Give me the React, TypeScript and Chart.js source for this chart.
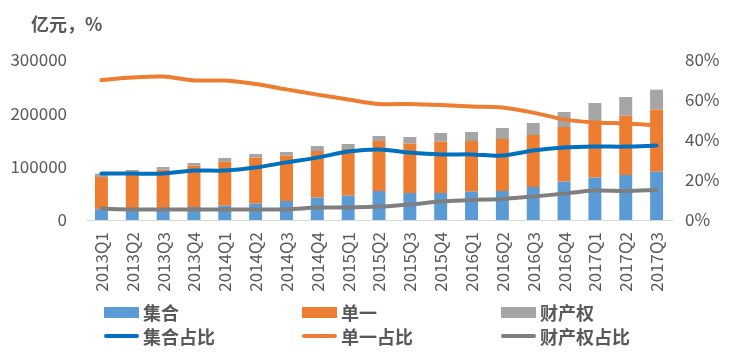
import React, { useEffect, useRef } from "react";
import { Chart, registerables } from "chart.js";

Chart.register(...registerables);

const categories = [
  "2013Q1", "2013Q2", "2013Q3", "2013Q4",
  "2014Q1", "2014Q2", "2014Q3", "2014Q4",
  "2015Q1", "2015Q2", "2015Q3", "2015Q4",
  "2016Q1", "2016Q2", "2016Q3", "2016Q4",
  "2017Q1", "2017Q2", "2017Q3",
];

// 亿元
const jiheValues = [20000, 22000, 22500, 24400, 26900, 30600, 35600, 41900, 45600, 54400, 50600, 50600, 53100, 54400, 61900, 71900, 79400, 84400, 90600];
const danyiValues = [60600, 66700, 71900, 77400, 82500, 86300, 85000, 87500, 87500, 93700, 92500, 96300, 95000, 97500, 97500, 102500, 106200, 111200, 116300];
const caichanValues = [6200, 5000, 5000, 5100, 6900, 6800, 6900, 9400, 9400, 9400, 12500, 16200, 16900, 20600, 22500, 28100, 33800, 35000, 37500];

// %
const jiheShare = [23.3, 23.2, 23.2, 24.7, 24.7, 26.2, 28.8, 31.2, 34.2, 35.3, 33.7, 32.8, 32.8, 32.2, 34.7, 36.2, 36.7, 36.7, 37.2];
const danyiShare = [70.0, 71.2, 71.7, 69.8, 69.7, 68.0, 65.3, 62.7, 60.3, 58.0, 58.0, 57.5, 56.7, 56.2, 53.7, 50.3, 48.7, 48.3, 47.3];
const caichanShare = [5.7, 5.3, 5.3, 5.3, 5.3, 5.3, 5.3, 6.2, 6.3, 6.7, 7.8, 9.2, 10.0, 10.5, 11.7, 13.2, 14.7, 14.5, 15.0];

const leftTicks = [0, 100000, 200000, 300000];
const rightTicks = [0, 20, 40, 60, 80];

const FONT = '"Noto Sans CJK SC", "Noto Sans", sans-serif';
const TEXT = "#595959";

const legendItems = [
  { label: "集合", color: "#5B9BD5", kind: "bar", col: 0, row: 0 },
  { label: "单一", color: "#ED7D31", kind: "bar", col: 1, row: 0 },
  { label: "财产权", color: "#A5A5A5", kind: "bar", col: 2, row: 0 },
  { label: "集合占比", color: "#0070C0", kind: "line", col: 0, row: 1 },
  { label: "单一占比", color: "#ED7D31", kind: "line", col: 1, row: 1 },
  { label: "财产权占比", color: "#7F7F7F", kind: "line", col: 2, row: 1 },
];
const colX = [104, 302, 501];
const rowY = [312, 336];

export default function App() {
  const ref = useRef<HTMLCanvasElement | null>(null);

  useEffect(() => {
    if (!ref.current) return;
    const chart = new Chart(ref.current, {
      data: {
        labels: categories,
        datasets: [
          { type: "bar", label: "集合", data: jiheValues, backgroundColor: "#5B9BD5", yAxisID: "y", stack: "s", order: 2, barPercentage: 0.42, categoryPercentage: 1 },
          { type: "bar", label: "单一", data: danyiValues, backgroundColor: "#ED7D31", yAxisID: "y", stack: "s", order: 2, barPercentage: 0.42, categoryPercentage: 1 },
          { type: "bar", label: "财产权", data: caichanValues, backgroundColor: "#A5A5A5", yAxisID: "y", stack: "s", order: 2, barPercentage: 0.42, categoryPercentage: 1 },
          { type: "line", label: "集合占比", data: jiheShare, borderColor: "#0070C0", backgroundColor: "#0070C0", borderWidth: 4, pointRadius: 0, tension: 0.3, yAxisID: "y1", order: 1, borderCapStyle: "round" },
          { type: "line", label: "单一占比", data: danyiShare, borderColor: "#ED7D31", backgroundColor: "#ED7D31", borderWidth: 4, pointRadius: 0, tension: 0.3, yAxisID: "y1", order: 1, borderCapStyle: "round" },
          { type: "line", label: "财产权占比", data: caichanShare, borderColor: "#7F7F7F", backgroundColor: "#7F7F7F", borderWidth: 4, pointRadius: 0, tension: 0.3, yAxisID: "y1", order: 1, borderCapStyle: "round" },
        ],
      } as any,
      options: {
        animation: false,
        responsive: false,
        maintainAspectRatio: false,
        layout: { padding: { top: 60, bottom: 52, left: 0, right: 0 } },
        plugins: { legend: { display: false }, tooltip: { enabled: false }, title: { display: false } },
        scales: {
          x: {
            stacked: true,
            grid: { display: false, drawTicks: false },
            border: { display: true, color: "#D9D9D9", width: 1 },
            ticks: {
              autoSkip: false,
              minRotation: 90,
              maxRotation: 90,
              padding: 12,
              color: TEXT,
              font: { family: FONT, size: 17 },
            },
            afterFit: (s: any) => { s.height = 80; },
          },
          y: {
            stacked: true,
            position: "left",
            min: leftTicks[0],
            max: leftTicks[leftTicks.length - 1],
            grid: { display: false, drawTicks: false },
            border: { display: false },
            afterBuildTicks: (s: any) => { s.ticks = leftTicks.map((v) => ({ value: v })); },
            ticks: { padding: 19, color: TEXT, font: { family: FONT, size: 17 }, callback: (v: any) => String(v) },
            afterFit: (s: any) => { s.width = 86; },
          },
          y1: {
            stacked: false,
            position: "right",
            min: rightTicks[0],
            max: rightTicks[rightTicks.length - 1],
            grid: { display: false, drawTicks: false },
            border: { display: false },
            afterBuildTicks: (s: any) => { s.ticks = rightTicks.map((v) => ({ value: v })); },
            ticks: {
              padding: 13,
              color: TEXT,
              font: { family: FONT, size: 17 },
              callback: (v: any) => v + "%",
            },
            afterFit: (s: any) => { s.width = 61; },
          },
        },
      },
    });
    return () => chart.destroy();
  }, []);

  return (
    <div style={{ position: "fixed", left: 0, top: 0, width: 733, height: 352, background: "#fff", fontFamily: FONT }}>
      <canvas ref={ref} width={733} height={352} style={{ display: "block" }} />
      <div style={{ position: "absolute", left: 31, top: 23, transform: "translateY(-50%)", fontSize: 18, fontWeight: "bold", color: TEXT, whiteSpace: "nowrap", lineHeight: 1 }}>
        亿元，%
      </div>
      {legendItems.map((it) => (
        <div key={it.label} style={{ position: "absolute", left: colX[it.col], top: rowY[it.row], transform: "translateY(-50%)", display: "flex", alignItems: "center", whiteSpace: "nowrap" }}>
          {it.kind === "bar" ? (
            <span style={{ display: "inline-block", width: 35, height: 11, background: it.color }} />
          ) : (
            <span style={{ display: "inline-block", width: 35, height: 4, borderRadius: 2, background: it.color }} />
          )}
          <span style={{ marginLeft: 4, fontSize: 18, fontWeight: "bold", color: TEXT, lineHeight: 1 }}>{it.label}</span>
        </div>
      ))}
    </div>
  );
}
